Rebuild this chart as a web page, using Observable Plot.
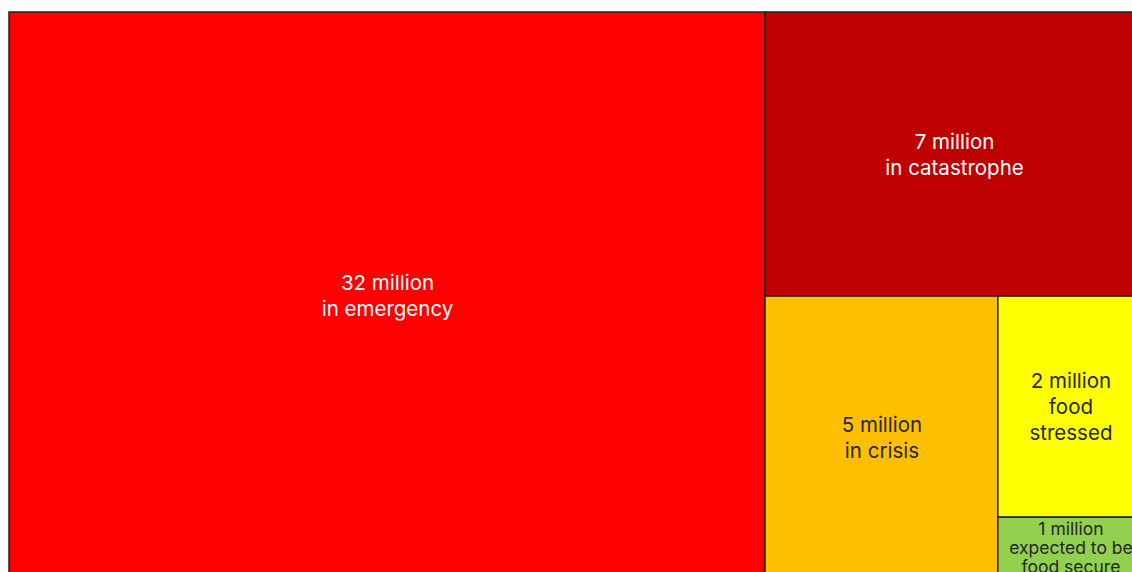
<!DOCTYPE html>
<html>
<head>
<meta charset="utf-8">
<script src="https://cdn.jsdelivr.net/npm/d3@7"></script>
<script src="https://cdn.jsdelivr.net/npm/@observablehq/plot@0.6"></script>
<style>
  html, body { margin: 0; padding: 0; overflow: hidden; background: #fff; }
  #chart svg { max-width: none !important; height: auto; }
</style>
</head>
<body>
<div id="chart"></div>
<script>
// Data (areas estimated from the tiles; labels as printed)
const categories = ["emergency", "catastrophe", "crisis", "food stressed", "food secure"];
const values = [32, 8.03, 4.91, 2.40, 0.66];
const labels = [
  "32 million\nin emergency",
  "7 million\nin catastrophe",
  "5 million\nin crisis",
  "2 million\nfood\nstressed",
  "1 million\nexpected to be\nfood secure"
];
const colors = ["#ff0000", "#bf0000", "#ffbf00", "#ffff00", "#92d050"];
const textColors = ["#ffffff", "#ffffff", "#262626", "#262626", "#262626"];
const small = [false, false, false, false, true];

const W = 1134, H = 566;
const table = categories.map((c, i) => ({
  name: c, value: values[i], label: labels[i], color: colors[i], textColor: textColors[i], small: small[i]
}));

const root = d3.hierarchy({children: table}).sum(d => d.value || 0);
d3.treemap().tile(d3.treemapSquarify.ratio(1)).size([W, H]).round(false)(root);
const leaves = root.leaves();

const chart = Plot.plot({
  width: 1152,
  height: 590,
  marginLeft: 9,
  marginRight: 9,
  marginTop: 12,
  marginBottom: 12,
  x: {domain: [0, W], axis: null},
  y: {domain: [0, H], reverse: true, axis: null},
  style: {fontFamily: "Inter, sans-serif", background: "#fff", maxWidth: "none"},
  marks: [
    Plot.rect(leaves, {
      x1: "x0", x2: "x1", y1: "y0", y2: "y1",
      fill: d => d.data.color,
      stroke: "#222",
      strokeWidth: 1.5
    }),
    Plot.text(leaves.filter(d => !d.data.small), {
      x: d => (d.x0 + d.x1) / 2,
      y: d => (d.y0 + d.y1) / 2,
      text: d => d.data.label,
      fill: d => d.data.textColor,
      fontSize: 20.5,
      fontWeight: 400,
      lineHeight: 1.27,
      dy: -1
    }),
    Plot.text(leaves.filter(d => d.data.small), {
      x: d => (d.x0 + d.x1) / 2,
      y: d => (d.y0 + d.y1) / 2,
      text: d => d.data.label,
      fill: d => d.data.textColor,
      fontSize: 17.5,
      fontWeight: 400,
      lineHeight: 1.06
    })
  ]
});
document.getElementById("chart").appendChild(chart);
</script>
</body>
</html>
